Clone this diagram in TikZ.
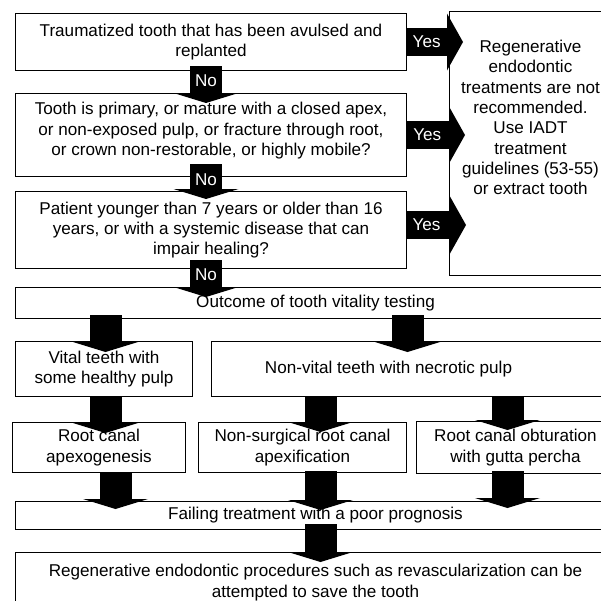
\documentclass[tikz,border=0pt]{standalone}
\usepackage{fontspec}
\setmainfont{Liberation Sans}
\usetikzlibrary{arrows.meta,calc}
\tikzset{
  box/.style={draw,line width=1pt,anchor=north west,align=center,inner sep=2pt,
    font=\fontsize{17.1}{20.3}\selectfont},
  downarr/.style={line width=32pt,-{Triangle[width=65pt,length=10pt,line width=0pt]}},
  rightarr/.style={line width=28pt,-{Triangle[width=57pt,length=16pt,line width=0pt]}},
  lbl/.style={white,font=\fontsize{17.1}{20}\selectfont}
}
\begin{document}
\begin{tikzpicture}[x=1pt,y=-1pt]
\clip (0,0) rectangle (601,600);
% questions
\node[box,minimum width=391pt,minimum height=57pt] (trauma) at (15,13)
  {Traumatized tooth that has been avulsed and\\replanted};
\node[box,minimum width=391pt,minimum height=83pt] (primary) at (15,93)
  {Tooth is primary, or mature with a closed apex,\\or non-exposed pulp, or fracture through root,\\or crown non-restorable, or highly mobile?\\[-8pt]\mbox{}};
\node[box,minimum width=391pt,minimum height=77pt] (patient) at (15,191)
  {Patient younger than 7 years or older than 16\\years, or with a systemic disease that can\\impair healing?};
\node[box,minimum width=162pt,minimum height=264pt] (notrec) at (449,11)
  {Regenerative\\endodontic\\treatments are not\\recommended.\\Use IADT\\treatment\\guidelines (53-55)\\or extract tooth\\[32pt]\mbox{}};
% vitality
\node[box,minimum width=600pt,minimum height=31pt] (outcome) at (15,287)
  {Outcome of tooth vitality testing};
\node[box,minimum width=177pt,minimum height=55pt] (vital) at (15,341)
  {Vital teeth with\\some healthy pulp};
\node[box,minimum width=404pt,minimum height=55pt] (nonvital) at (211,341)
  {\hspace*{-50pt}Non-vital teeth with necrotic pulp};
% treatments
\node[box,minimum width=173pt,minimum height=50pt] (apexo) at (12,422)
  {Root canal\\apexogenesis};
\node[box,minimum width=208pt,minimum height=50pt] (apexi) at (198,422)
  {Non-surgical root canal\\apexification};
\node[box,minimum width=198pt,minimum height=52pt] (gutta) at (416,421)
  {Root canal obturation\\with gutta percha};
\node[box,minimum width=600pt,minimum height=28pt] (failing) at (15,501)
  {Failing treatment with a poor prognosis};
\node[box,minimum width=600pt,minimum height=60pt] (regen) at (15,552)
  {Regenerative endodontic procedures such as revascularization can be\\attempted to save the tooth};
% yes / no
\draw[rightarr] (trauma.east) -- ($(trauma.east -| notrec.west)+(14,0)$) node[lbl,pos=.35]{Yes};
\draw[rightarr] (primary.east) -- ($(primary.east -| notrec.west)+(16,0)$) node[lbl,pos=.35]{Yes};
\draw[rightarr] ($(patient.east)+(0,-5)$) -- ($(patient.east -| notrec.west)+(17,-5)$) node[lbl,pos=.33]{Yes};
\draw[downarr] ($(trauma.south)+(-5,-5)$) -- ($(primary.north)+(-5,10)$) node[lbl,pos=.4]{No};
\draw[downarr] ($(primary.south)+(-5,-13)$) -- ($(patient.north)+(-5,8)$) node[lbl,pos=.45]{No};
\draw[downarr] ($(patient.south)+(-5,-9)$) -- ($(patient.south |- outcome.north)+(-5,10)$) node[lbl,pos=.4]{No};
% flow
\draw[downarr] ($(outcome.south -| vital.north)+(1.5,-4)$) -- ($(vital.north)+(1.5,11)$);
\draw[downarr] ($(outcome.south -| nonvital.north)+(-6,-4)$) -- ($(nonvital.north)+(-6,11)$);
\draw[downarr] ($(vital.south)+(1.5,-1)$) -- ($(vital.south |- apexo.north)+(1.5,11)$);
\draw[downarr] ($(nonvital.south -| apexi.north)+(18,-1)$) -- ($(apexi.north)+(18,10)$);
\draw[downarr] ($(nonvital.south -| gutta.north)+(-8,-1)$) -- ($(gutta.north)+(-8,9)$);
\draw[downarr] ($(apexo.south)+(16.5,-1)$) -- ($(apexo.south |- failing.north)+(16.5,8)$);
\draw[downarr] ($(apexi.south)+(18,-2)$) -- ($(apexi.south |- failing.north)+(18,9)$);
\draw[downarr] ($(gutta.south)+(-8,-3)$) -- ($(gutta.south |- failing.north)+(-8,7)$);
\draw[downarr] ($(failing.south -| apexi.south)+(18,-6)$) -- ($(regen.north -| apexi.south)+(18,10)$);
\end{tikzpicture}
\end{document}
